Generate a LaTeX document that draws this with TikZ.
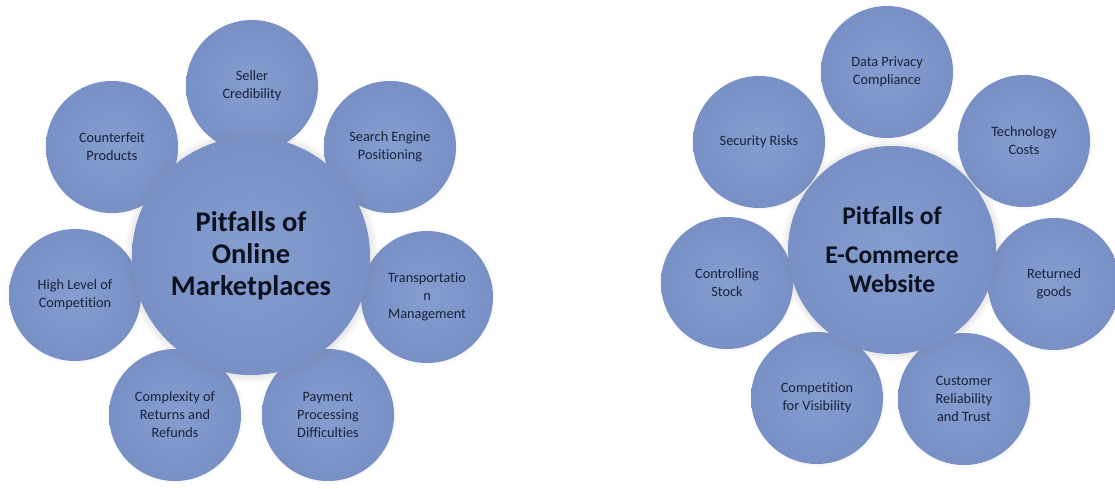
\documentclass[tikz,border=0pt]{standalone}
\usepackage{fontspec}
\setmainfont{Carlito}[Ligatures=NoCommon]
\usetikzlibrary{shadows}
\definecolor{bubble}{RGB}{127, 151, 203}
\definecolor{bubblelight}{RGB}{134, 157, 207}
\definecolor{bubbleedge}{RGB}{120, 144, 197}
\definecolor{ink}{RGB}{24, 34, 58}
\definecolor{hubink}{RGB}{12, 18, 32}

\begin{document}
\begin{tikzpicture}[x=1pt, y=-1pt,
    sat/.style={circle, inner sep=0pt, minimum size=132pt, align=center,
                inner color=bubblelight, outer color=bubbleedge,
                circular drop shadow={shadow xshift=0pt, shadow yshift=0pt, shadow scale=1.05, opacity=0.2},
                text=ink, font=\fontsize{14.3}{18}\selectfont},
    hub/.style={circle, inner sep=0pt, align=center,
                inner color=bubblelight, outer color=bubbleedge,
                circular drop shadow={shadow xshift=0pt, shadow yshift=0pt, shadow scale=1.07, opacity=0.4},
                text=hubink, font=\bfseries\fontsize{28.5}{32}\selectfont}]
    \useasboundingbox (0,0) rectangle (1115,488);

    % Online marketplaces
    \node[sat] (seller) at (252, 86) {Seller\\Credibility};
    \node[sat] (counterfeit) at (112, 147) {Counterfeit\\Products};
    \node[sat] (search) at (390, 147) {Search Engine\\Positioning};
    \node[sat] (competition) at (75, 295) {High Level of\\Competition};
    \node[sat] (transport) at (427, 297) {Transportatio\\n\\Management};
    \node[sat] (returns) at (175, 415) {Complexity of\\Returns and\\Refunds};
    \node[sat] (payment) at (328, 415) {Payment\\Processing\\Difficulties};
    \node[hub, minimum size=238pt] (market) at (251, 256) {Pitfalls of\\Online\\Marketplaces};

    % E-commerce website
    \node[sat] (privacy) at (887, 72) {Data Privacy\\Compliance};
    \node[sat] (security) at (759, 142) {Security Risks};
    \node[sat] (techcost) at (1024, 141) {Technology\\Costs};
    \node[sat] (stock) at (727, 283) {Controlling\\Stock};
    \node[sat] (returned) at (1054, 284) {Returned\\goods};
    \node[sat] (visibility) at (817, 398) {Competition\\for Visibility};
    \node[sat] (trust) at (964, 399) {Customer\\Reliability\\and Trust};
    \node[hub, minimum size=208pt, font=\bfseries\fontsize{25.5}{29}\selectfont] (website) at (892, 250) {Pitfalls of\\[10pt]E-Commerce\\Website};
\end{tikzpicture}
\end{document}
